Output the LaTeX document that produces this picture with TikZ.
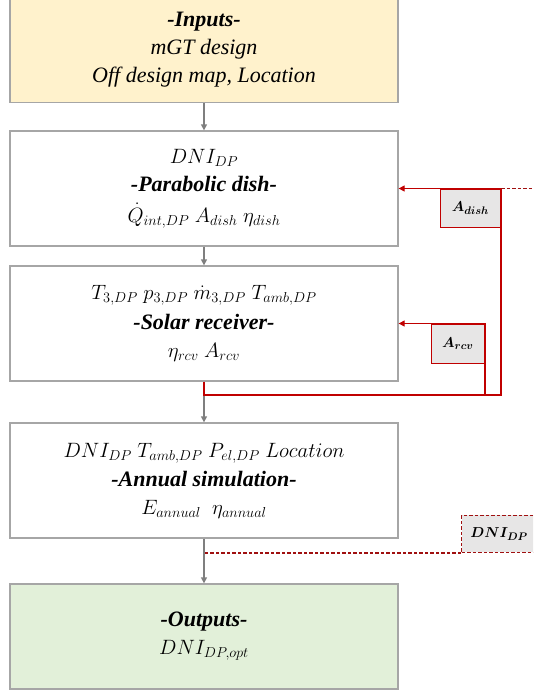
\documentclass[tikz,border=0pt]{standalone}
\usepackage{amsmath}
\usepackage{fontspec}
\setmainfont{Liberation Serif}
\usetikzlibrary{arrows.meta}
\definecolor{boxgray}{HTML}{A6A6A6}
\definecolor{arrgray}{HTML}{7F7F7F}
\definecolor{inyellow}{HTML}{FFF2CC}
\definecolor{outgreen}{HTML}{E2F0D9}
\definecolor{myred}{HTML}{C00000}
\definecolor{darkred}{HTML}{A01010}
\definecolor{lblgray}{HTML}{E7E6E6}
\begin{document}
\begin{tikzpicture}[x=1pt,y=-1pt,
 mainbox/.style={draw=boxgray, line width=1.3pt, minimum width=388pt, align=center,
   font=\fontsize{22}{28}\selectfont, inner sep=0pt},
 flow/.style={draw=arrgray, line width=1.3pt, -{Triangle[length=6pt,width=6pt]}},
 fbarrow/.style={draw=myred, line width=1.2pt, -{Triangle[length=6pt,width=6pt]}},
 fbdash/.style={draw=darkred, line width=1.2pt, dash pattern=on 3.5pt off 2pt},
 labelbox/.style={draw=myred, fill=lblgray, line width=1.2pt, inner sep=0pt,
   font=\fontsize{15}{17}\selectfont},
]
\useasboundingbox (0,0) rectangle (533,691);
\clip (0,0) rectangle (533,691);

\node[mainbox, fill=inyellow, minimum height=105pt] (in) at (204,50)
  {\textbf{\textit{-Inputs-}}\\ \textit{mGT design}\\ \textit{Off design map, Location}};
\node[mainbox, fill=white, minimum height=115pt] (dish) at (204,188.5)
  {$DNI_{DP}$\\ \textbf{\textit{-Parabolic dish-}}\\[3pt] $\dot{Q}_{int,DP}\ A_{dish}\ \eta_{dish}$};
\node[mainbox, fill=white, minimum height=115pt] (rcv) at (204,323.5)
  {$T_{3,DP}\ p_{3,DP}\ \dot{m}_{3,DP}\ T_{amb,DP}$\\[2pt] \textbf{\textit{-Solar receiver-}}\\ $\eta_{rcv}\ A_{rcv}$};
\node[mainbox, fill=white, minimum height=115pt] (ann) at (204,480.5)
  {$DNI_{DP}\ T_{amb,DP}\ P_{el,DP}\ Location$\\[1pt] \textbf{\textit{-Annual simulation-}}\\ $E_{annual}\ \ \eta_{annual}$};
\node[mainbox, fill=outgreen, minimum height=105pt] (out) at (204,636.5)
  {\textbf{\textit{-Outputs-}}\\ $DNI_{DP,opt}$};

% main flow
\draw[flow] (in.south) -- (dish.north);
\draw[flow] (dish.south) -- (rcv.north);
\draw[flow] (rcv.south) -- (ann.north);
\draw[flow] (ann.south) -- (out.north);

% feedback
\coordinate (j) at (501,395);
\coordinate (k) at (485,395);
\coordinate (e1) at (533,188.5);
\draw[fbarrow] (rcv.south) |- (j) |- (dish.east);
\draw[fbarrow] (k) |- (rcv.east);
\draw[fbdash] (j |- dish.east) -- (e1);

\node[labelbox, anchor=north east, minimum width=60pt, minimum height=38pt] (la) at (j |- dish.east) {$\boldsymbol{A_{dish}}$};
\node[labelbox, anchor=north east, minimum width=53pt, minimum height=39pt] (lb) at (k |- rcv.east) {$\boldsymbol{A_{rcv}}$};

\node[labelbox, draw=darkred, dash pattern=on 3.5pt off 2pt, anchor=south west,
  minimum width=75pt, minimum height=37pt] (lc) at (461,553) {$\boldsymbol{DNI_{DP}}$};
\draw[fbdash] (lc.south west) -- (lc.south west -| ann.south);
\end{tikzpicture}
\end{document}
